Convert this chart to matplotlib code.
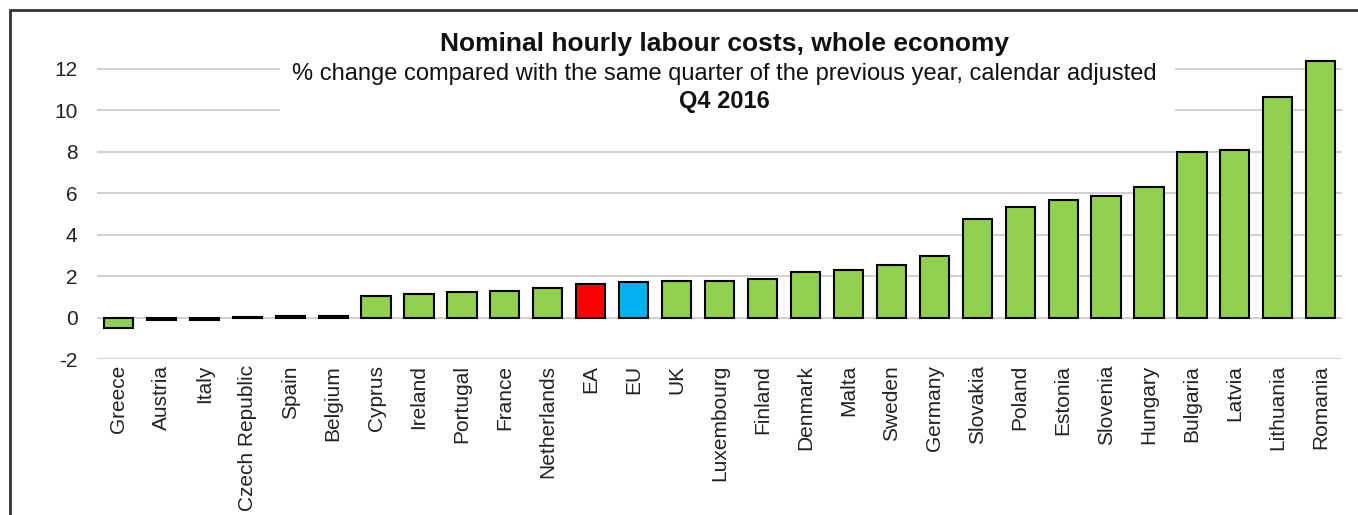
"""Nominal hourly labour costs, whole economy - Q4 2016 bar chart."""

import matplotlib
matplotlib.use("Agg")
import matplotlib.pyplot as plt
from matplotlib.patches import Rectangle

plt.rcParams['font.family'] = ['Liberation Sans', 'DejaVu Sans']

countries = ['Greece', 'Austria', 'Italy', 'Czech Republic', 'Spain', 'Belgium',
             'Cyprus', 'Ireland', 'Portugal', 'France', 'Netherlands', 'EA', 'EU',
             'UK', 'Luxembourg', 'Finland', 'Denmark', 'Malta', 'Sweden', 'Germany',
             'Slovakia', 'Poland', 'Estonia', 'Slovenia', 'Hungary', 'Bulgaria',
             'Latvia', 'Lithuania', 'Romania']
changes = [-0.5, -0.1, -0.1, 0.05, 0.1, 0.1,
           1.05, 1.15, 1.25, 1.3, 1.45, 1.65, 1.75,
           1.8, 1.8, 1.85, 2.2, 2.3, 2.55, 3.0,
           4.75, 5.35, 5.7, 5.85, 6.3, 8.0,
           8.1, 10.65, 12.35]
y_ticks = [-2, 0, 2, 4, 6, 8, 10, 12]

GREEN = '#92D050'
colors = [GREEN] * len(countries)
colors[countries.index('EA')] = '#FF0000'
colors[countries.index('EU')] = '#00B0F0'

fig = plt.figure(figsize=(13.58, 5.15), dpi=100)
ax = fig.add_axes([0.0714, 0.302, 0.917, 0.605])

# Bars
x = range(len(countries))
ax.bar(x, changes, width=0.68, color=colors, edgecolor='black', linewidth=1.5, zorder=3)

# Axes setup
ax.set_xlim(-0.5, len(countries) - 0.5)
ax.set_ylim(-2, 13)
ax.set_yticks(y_ticks)
ax.set_yticklabels([str(t) for t in y_ticks], fontsize=15)
ax.set_xticks(list(x))
ax.set_xticklabels(countries, rotation=90, fontsize=15, va='top')
ax.tick_params(axis='both', length=0, colors='#222222')
ax.tick_params(axis='y', pad=14)
ax.tick_params(axis='x', pad=4)
for s in ax.spines.values():
    s.set_visible(False)
ax.grid(axis='y', color='#c8c8c8', linewidth=1.2, zorder=0)
ax.set_axisbelow(True)

# White backing behind the title block (hides the upper gridlines)
ax.add_patch(Rectangle((0.147, 0.77), 0.719, 0.3, transform=ax.transAxes,
                       facecolor='white', edgecolor='none', zorder=2, clip_on=False))

# Titles
ax.text(0.504, 0.99, 'Nominal hourly labour costs, whole economy', transform=ax.transAxes,
        ha='center', va='baseline', fontsize=19, fontweight='bold', color='#111111', zorder=4)
ax.text(0.504, 0.897, '% change compared with the same quarter of the previous year, calendar adjusted',
        transform=ax.transAxes, ha='center', va='baseline', fontsize=17, color='#111111', zorder=4)
ax.text(0.504, 0.807, 'Q4 2016', transform=ax.transAxes,
        ha='center', va='baseline', fontsize=17, fontweight='bold', color='#111111', zorder=4)

# Outer frame (cut off on the right and bottom like the original)
fig.add_artist(Rectangle((10 / 1358, -0.05), 1.1, (515 - 10) / 515 + 0.05,
                         transform=fig.transFigure, facecolor='none',
                         edgecolor='#333333', linewidth=2))

fig.savefig('out.png', dpi=100)
